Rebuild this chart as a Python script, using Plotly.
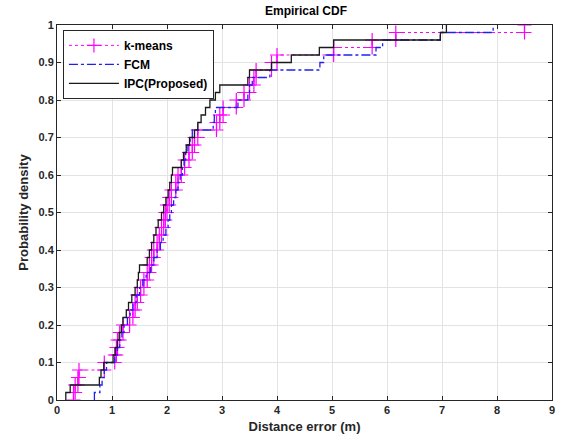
import numpy as np
import plotly.graph_objects as go

# Sorted distance-error samples (m) read from the empirical CDF steps (n = 50 each)
kmeans = [0.30, 0.33, 0.38, 0.40, 0.86, 1.05, 1.08, 1.10, 1.14, 1.20,
          1.32, 1.38, 1.42, 1.46, 1.52, 1.58, 1.64, 1.68, 1.72, 1.76,
          1.82, 1.86, 1.90, 1.94, 1.97, 2.00, 2.04, 2.08, 2.16, 2.20,
          2.26, 2.32, 2.40, 2.46, 2.50, 2.56, 2.90, 2.96, 3.02, 3.26,
          3.40, 3.50, 3.58, 3.62, 3.90, 4.00, 5.03, 5.73, 6.16, 8.50]
fcm = [0.68, 0.78, 0.82, 0.86, 0.90, 1.05, 1.10, 1.14, 1.18, 1.22,
       1.28, 1.33, 1.38, 1.44, 1.50, 1.56, 1.62, 1.70, 1.76, 1.82,
       1.88, 1.93, 1.98, 2.02, 2.05, 2.08, 2.12, 2.16, 2.20, 2.24,
       2.28, 2.31, 2.34, 2.38, 2.42, 2.46, 2.84, 2.86, 2.88, 3.29,
       3.47, 3.50, 3.55, 3.87, 4.78, 4.85, 5.80, 5.92, 6.97, 7.93]
ipc = [0.16, 0.24, 0.77, 0.80, 0.85, 1.02, 1.06, 1.10, 1.13, 1.17,
       1.20, 1.26, 1.30, 1.36, 1.42, 1.46, 1.48, 1.50, 1.64, 1.68,
       1.72, 1.76, 1.80, 1.84, 1.90, 1.94, 1.98, 2.02, 2.05, 2.08,
       2.10, 2.26, 2.30, 2.35, 2.41, 2.50, 2.56, 2.62, 2.70, 2.78,
       2.88, 2.96, 3.47, 3.50, 3.90, 4.26, 4.77, 5.03, 6.97, 7.08]

names = ["k-means", "FCM", "IPC(Proposed)"]
x_ticks = list(range(0, 10))
y_ticks = [round(0.1 * i, 1) for i in range(11)]


def stairs(samples):
    s = np.sort(np.asarray(samples, dtype=float))
    n = len(s)
    xs, ys = [], []
    for i, v in enumerate(s):
        xs += [v, v]
        ys += [i / n, (i + 1) / n]
    return xs, ys


FONT = "Liberation Sans, Arial, Helvetica, sans-serif"
fig = go.Figure()

kx, ky = stairs(kmeans)
fig.add_trace(go.Scatter(
    x=kx, y=ky, name=names[0], mode="lines+markers",
    line=dict(color="#ff00ff", width=1, dash="dot"),
    marker=dict(symbol="cross-thin", size=10, line=dict(color="#ff00ff", width=1.2)),
))
fx, fy = stairs(fcm)
fig.add_trace(go.Scatter(
    x=fx, y=fy, name=names[1], mode="lines",
    line=dict(color="#2020ee", width=1.3, dash="dashdot"),
))
ix, iy = stairs(ipc)
fig.add_trace(go.Scatter(
    x=ix, y=iy, name=names[2], mode="lines",
    line=dict(color="#1a1a1a", width=1.3),
))

axis_common = dict(
    showgrid=True, gridcolor="#e3e3e3", gridwidth=1,
    showline=True, linecolor="#262626", linewidth=1, mirror="ticks",
    ticks="inside", ticklen=4, tickcolor="#262626",
    zeroline=False,
    tickfont=dict(family=FONT, size=11, color="#262626", weight="bold"),
)

fig.update_layout(
    width=564, height=445,
    margin=dict(l=57, r=9, t=25, b=45),
    paper_bgcolor="white", plot_bgcolor="white",
    title=dict(text="Empirical CDF", x=(57 + 555) / 2 / 564, xanchor="center",
               y=1 - 11 / 445, yanchor="middle",
               font=dict(family=FONT, size=12, color="#000000", weight="bold")),
    xaxis=dict(range=[0, 9], tickvals=x_ticks,
               title=dict(text="Distance error (m)", standoff=6,
                          font=dict(family=FONT, size=13, color="#262626", weight="bold")),
               **axis_common),
    yaxis=dict(range=[0, 1], tickvals=y_ticks, ticktext=[f"{v:g}" for v in y_ticks],
               title=dict(text="Probability density", standoff=6,
                          font=dict(family=FONT, size=13, color="#262626", weight="bold")),
               **axis_common),
    legend=dict(x=0.012, y=0.987, xanchor="left", yanchor="top",
                bgcolor="white", bordercolor="#262626", borderwidth=1,
                itemwidth=50, tracegroupgap=0,
                font=dict(family=FONT, size=12, color="#000000", weight="bold")),
    showlegend=True,
)

fig.write_html("out.html")
